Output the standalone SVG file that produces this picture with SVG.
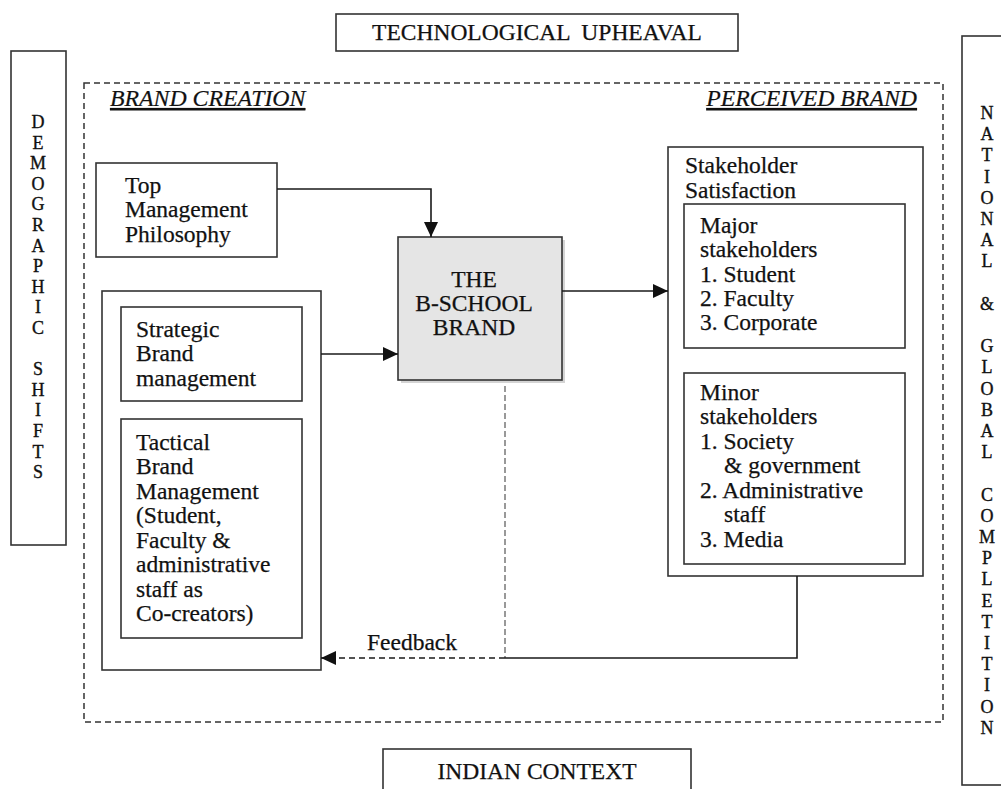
<svg xmlns="http://www.w3.org/2000/svg" width="1001" height="789" viewBox="0 0 1001 789">
<defs>
<style>
.box{fill:#fff;stroke:#333;stroke-width:1.6}
.t{font-family:"Liberation Serif","Times New Roman",serif;font-size:23.5px;fill:#111;stroke:#111;stroke-width:0.25}
.v{font-family:"Liberation Serif","Times New Roman",serif;font-size:18px;fill:#111;stroke:#111;stroke-width:0.35;text-anchor:middle}
.h{font-family:"Liberation Serif","Times New Roman",serif;font-size:23.8px;font-style:italic;fill:#111;stroke:#111;stroke-width:0.2;text-decoration:underline}
.c{fill:none;stroke:#1a1a1a;stroke-width:1.6}
.d{fill:none;stroke:#1a1a1a;stroke-width:1.6;stroke-dasharray:6 4}
.g{fill:none;stroke:#999;stroke-width:2;stroke-dasharray:6 3}
</style>
<marker id="ah" markerUnits="userSpaceOnUse" markerWidth="16" markerHeight="14" refX="15" refY="7" orient="auto">
<path d="M0,0 L15,7 L0,14 z" fill="#111"/>
</marker>
</defs>
<rect width="1001" height="789" fill="#fff"/>

<g id="tech">
<rect class="box" x="336" y="14" width="402" height="37"/>
<text class="t" x="537" y="40" text-anchor="middle" xml:space="preserve">TECHNOLOGICAL  UPHEAVAL</text>
</g>

<g id="demographic">
<rect class="box" x="11" y="51" width="55" height="494"/>
<text class="v">
<tspan x="38" y="128">D</tspan><tspan x="38" dy="20.6">E</tspan><tspan x="38" dy="20.6">M</tspan><tspan x="38" dy="20.6">O</tspan><tspan x="38" dy="20.6">G</tspan><tspan x="38" dy="20.6">R</tspan><tspan x="38" dy="20.6">A</tspan><tspan x="38" dy="20.6">P</tspan><tspan x="38" dy="20.6">H</tspan><tspan x="38" dy="20.6">I</tspan><tspan x="38" dy="20.6">C</tspan><tspan x="38" dy="41.2">S</tspan><tspan x="38" dy="20.6">H</tspan><tspan x="38" dy="20.6">I</tspan><tspan x="38" dy="20.6">F</tspan><tspan x="38" dy="20.6">T</tspan><tspan x="38" dy="20.6">S</tspan>
</text>
</g>

<g id="national">
<rect class="box" x="962" y="36" width="45" height="749"/>
<text class="v">
<tspan x="987" y="119">N</tspan><tspan x="987" dy="21.2">A</tspan><tspan x="987" dy="21.2">T</tspan><tspan x="987" dy="21.2">I</tspan><tspan x="987" dy="21.2">O</tspan><tspan x="987" dy="21.2">N</tspan><tspan x="987" dy="21.2">A</tspan><tspan x="987" dy="21.2">L</tspan><tspan x="987" dy="42.4">&amp;</tspan><tspan x="987" dy="42.4">G</tspan><tspan x="987" dy="21.2">L</tspan><tspan x="987" dy="21.2">O</tspan><tspan x="987" dy="21.2">B</tspan><tspan x="987" dy="21.2">A</tspan><tspan x="987" dy="21.2">L</tspan><tspan x="987" dy="42.4">C</tspan><tspan x="987" dy="21.2">O</tspan><tspan x="987" dy="21.2">M</tspan><tspan x="987" dy="21.2">P</tspan><tspan x="987" dy="21.2">L</tspan><tspan x="987" dy="21.2">E</tspan><tspan x="987" dy="21.2">T</tspan><tspan x="987" dy="21.2">I</tspan><tspan x="987" dy="21.2">T</tspan><tspan x="987" dy="21.2">I</tspan><tspan x="987" dy="21.2">O</tspan><tspan x="987" dy="21.2">N</tspan>
</text>
</g>

<g id="indian">
<rect class="box" x="383" y="749" width="308" height="45"/>
<text class="t" x="537" y="779" text-anchor="middle">INDIAN CONTEXT</text>
</g>

<g id="frame">
<rect x="84" y="83" width="859" height="639" fill="none" stroke="#333" stroke-width="1.5" stroke-dasharray="6 4"/>
<text class="h" x="110" y="106">BRAND CREATION</text>
<text class="h" x="917" y="106" text-anchor="end">PERCEIVED BRAND</text>
</g>

<g id="top-management">
<rect class="box" x="96" y="163" width="181" height="94"/>
<text class="t"><tspan x="125" y="193">Top</tspan><tspan x="125" y="217">Management</tspan><tspan x="125" y="242">Philosophy</tspan></text>
</g>

<g id="bschool">
<rect x="401" y="240" width="164" height="143" fill="#d4d4d4"/>
<rect x="398" y="237" width="164" height="143" fill="#e5e5e5" stroke="#333" stroke-width="1.6"/>
<text class="t" text-anchor="middle"><tspan x="474" y="287">THE</tspan><tspan x="474" y="311">B-SCHOOL</tspan><tspan x="474" y="335">BRAND</tspan></text>
</g>

<g id="brand-management">
<rect class="box" x="102" y="291" width="219" height="379"/>
</g>

<g id="strategic">
<rect class="box" x="121" y="307" width="181" height="94"/>
<text class="t"><tspan x="136" y="337">Strategic</tspan><tspan x="136" y="361">Brand</tspan><tspan x="136" y="386">management</tspan></text>
</g>

<g id="tactical">
<rect class="box" x="121" y="419" width="181" height="219"/>
<text class="t"><tspan x="136" y="450">Tactical</tspan><tspan x="136" y="474">Brand</tspan><tspan x="136" y="499">Management</tspan><tspan x="136" y="523">(Student,</tspan><tspan x="136" y="548">Faculty &amp;</tspan><tspan x="136" y="572">administrative</tspan><tspan x="136" y="597">staff as</tspan><tspan x="136" y="621">Co-creators)</tspan></text>
</g>

<g id="stakeholder-satisfaction">
<rect class="box" x="668" y="147" width="255" height="429"/>
<text class="t"><tspan x="685" y="173">Stakeholder</tspan><tspan x="685" y="198">Satisfaction</tspan></text>
</g>

<g id="major">
<rect class="box" x="684" y="204" width="221" height="144"/>
<text class="t"><tspan x="700" y="233">Major</tspan><tspan x="700" y="257">stakeholders</tspan><tspan x="700" y="282">1. Student</tspan><tspan x="700" y="306">2. Faculty</tspan><tspan x="700" y="330">3. Corporate</tspan></text>
</g>

<g id="minor">
<rect class="box" x="684" y="373" width="221" height="191"/>
<text class="t"><tspan x="700" y="400">Minor</tspan><tspan x="700" y="424">stakeholders</tspan><tspan x="700" y="449">1. Society</tspan><tspan x="724" y="473">&amp; government</tspan><tspan x="700" y="498">2. Administrative</tspan><tspan x="724" y="522">staff</tspan><tspan x="700" y="547">3. Media</tspan></text>
</g>

<g id="connectors">
<path class="c" d="M277,189 H431 V237" marker-end="url(#ah)"/>
<path class="c" d="M321,354 H398" marker-end="url(#ah)"/>
<path class="c" d="M562,291 H668" marker-end="url(#ah)"/>
<path class="g" d="M505,386 V658"/>
<path class="c" d="M797,576 V658 H505"/>
<path class="d" d="M505,658 H321" marker-end="url(#ah)"/>
<text class="t" x="367" y="650">Feedback</text>
</g>
</svg>
